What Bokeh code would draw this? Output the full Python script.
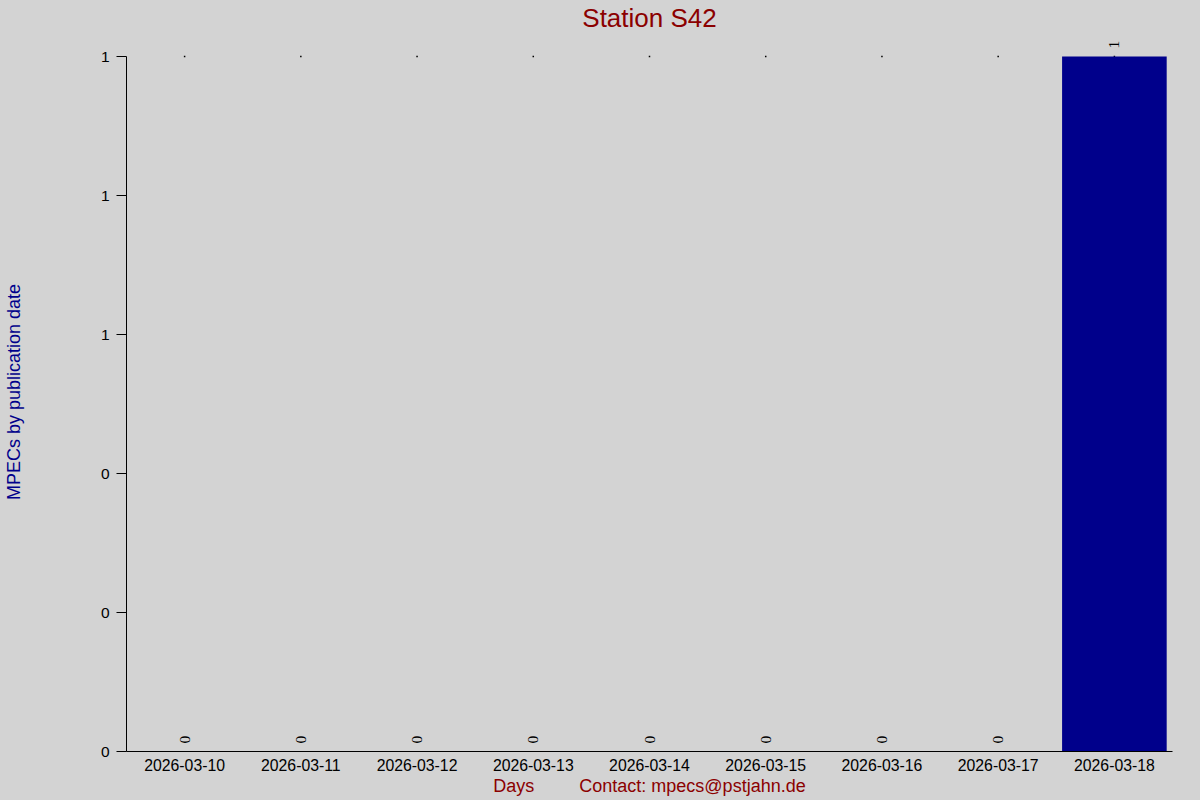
import math
from bokeh.plotting import figure
from bokeh.models import (FactorRange, Range1d, FixedTicker, CustomJSTickFormatter,
                          LabelSet, ColumnDataSource)
from bokeh.embed import file_html
from bokeh.resources import INLINE

# ---- data ----
days = ["2026-03-10", "2026-03-11", "2026-03-12", "2026-03-13", "2026-03-14",
        "2026-03-15", "2026-03-16", "2026-03-17", "2026-03-18"]
counts = [0, 0, 0, 0, 0, 0, 0, 0, 1]
y_ticks = [0, 0.2, 0.4, 0.6, 0.8, 1.0]
title_text = "Station S42"
y_label = "MPECs by publication date"
x_label = "Days"
contact = "Contact: mpecs@pstjahn.de"

FONT = "Liberation Sans"
BG = "#d3d3d3"
RED = "#8b0000"
BLUE = "#00008b"

W, H = 1200, 800
LEFT, RIGHT, TOP, BOTTOM = 126, 28, 32, 49
# the frame reaches above the axis top so that the value label over the tallest bar shows
ymax = max(counts)
y_top = ymax * (H - BOTTOM - TOP) / (H - BOTTOM - 56)

p = figure(width=W, height=H, x_range=FactorRange(factors=days, range_padding=0),
           y_range=Range1d(0, y_top), output_backend="svg", toolbar_location=None,
           min_border_left=LEFT, min_border_right=RIGHT, min_border_top=TOP,
           min_border_bottom=BOTTOM, title=title_text)
p.background_fill_color = BG
p.border_fill_color = BG
p.outline_line_color = None
p.grid.visible = False

p.title.align = "center"
p.title.text_color = RED
p.title.text_font = FONT
p.title.text_font_size = "26px"
p.title.text_font_style = "normal"
p.title.standoff = 0
p.title.offset = 0

src = ColumnDataSource(dict(day=days, count=counts, lab=[str(c) for c in counts],
                            top=[ymax] * len(days)))
p.scatter(x="day", y="top", source=src, size=1.5, marker="square",
          fill_color="black", line_color=None)
p.vbar(x="day", top="count", bottom=0, width=0.9, source=src,
       fill_color="#00008b", line_color=None)
p.add_layout(LabelSet(x="day", y="count", text="lab", source=src, angle=math.pi / 2,
                      text_align="left", text_baseline="middle", y_offset=8,
                      text_font=FONT, text_font_size="15.5px", text_color="black"))

# axes
ya = p.yaxis[0]
ya.ticker = FixedTicker(ticks=y_ticks)
ya.bounds = (0, ymax)
ya.formatter = CustomJSTickFormatter(code="return Math.round(tick).toString();")
ya.major_tick_in = 0
ya.major_tick_out = 10
ya.minor_tick_out = 0
ya.minor_tick_in = 0
ya.axis_line_color = "black"
ya.major_tick_line_color = "black"
ya.major_label_standoff = 7
ya.major_label_text_font = FONT
ya.major_label_text_font_size = "15.5px"
ya.major_label_text_color = "black"
ya.axis_label = y_label
ya.axis_label_text_font = FONT
ya.axis_label_text_font_size = "18px"
ya.axis_label_text_font_style = "normal"
ya.axis_label_text_color = BLUE
ya.axis_label_standoff = 74

xa = p.xaxis[0]
xa.major_tick_in = 0
xa.major_tick_out = 0
xa.axis_line_color = "black"
xa.major_label_standoff = 7
xa.major_label_text_font = FONT
xa.major_label_text_font_size = "15.8px"
xa.major_label_text_color = "black"
xa.major_label_orientation = "horizontal"
gap = "\u00a0" * 9
xa.axis_label = x_label + gap + contact
xa.axis_label_text_font = FONT
xa.axis_label_text_font_size = "18px"
xa.axis_label_text_font_style = "normal"
xa.axis_label_text_color = RED
xa.axis_label_standoff = 2

html = file_html(p, INLINE)
html = html.replace("<head>", "<head><style>html,body{background:#d3d3d3;}</style>", 1)
open("out.html", "w").write(html)
